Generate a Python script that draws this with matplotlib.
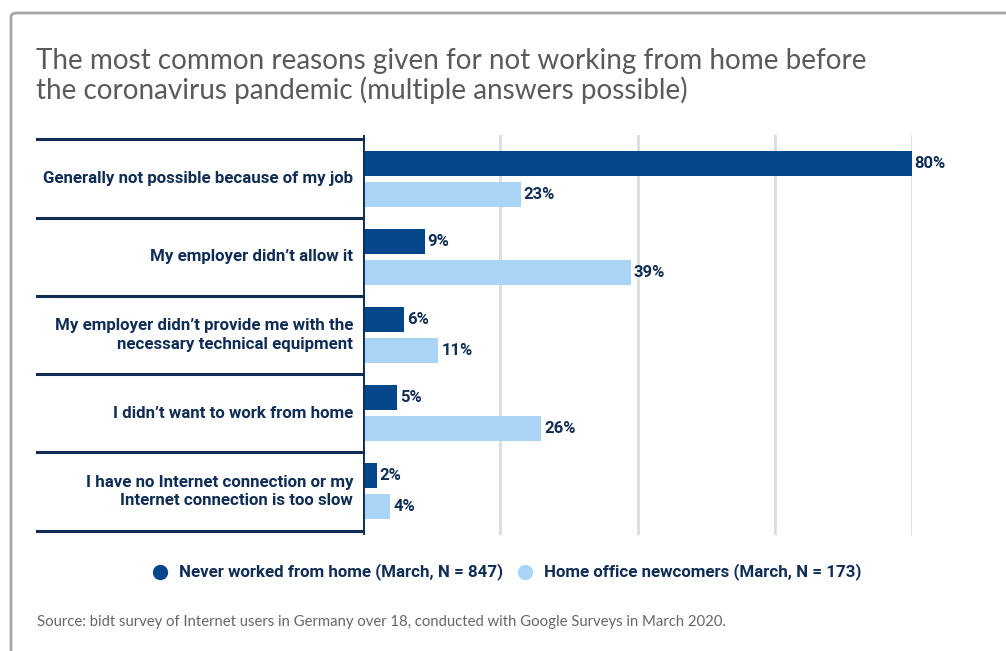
import matplotlib.pyplot as plt
import numpy as np
from matplotlib.patches import FancyBboxPatch
from matplotlib.transforms import blended_transform_factory

reasons = [
    "Generally not possible because of my job",
    "My employer didn\u2019t allow it",
    "My employer didn\u2019t provide me with the\nnecessary technical equipment",
    "I didn\u2019t want to work from home",
    "I have no Internet connection or my\nInternet connection is too slow",
]
never_wfh = [80, 9, 6, 5, 2]
newcomers = [23, 39, 11, 26, 4]
series_names = ["Never worked from home (March, N = 847)",
                "Home office newcomers (March, N = 173)"]
grid_ticks = [20, 40, 60, 80]

dark = "#03468a"
light = "#a9d4f6"
navy = "#0f2d55"
W, H = 1006, 651

plt.rcParams['font.family'] = ['Roboto', 'DejaVu Sans']

fig = plt.figure(figsize=(W / 100, H / 100), dpi=100)

# card outline
card = FancyBboxPatch((11 / W, -0.2), 1.2, 1.2 - 13 / H,
                      boxstyle="round,pad=0,rounding_size=0.006",
                      transform=fig.transFigure, fill=False,
                      edgecolor="#a7a7a7", linewidth=2)
fig.patches.append(card)

fig.text(36 / W, 1 - 48 / H,
         "The most common reasons given for not working from home before\n"
         "the coronavirus pandemic (multiple answers possible)",
         ha="left", va="top", fontsize=20.1, color="#5a5a5a",
         family=["Lato", "DejaVu Sans"], linespacing=1.12)

ax = fig.add_axes([363 / W, 1 - 535 / H, (912 - 363) / W, 400 / H])
y = np.arange(len(reasons))
off = 0.198
h = 0.32
ax.barh(y - off, never_wfh, height=h, color=dark, zorder=3)
ax.barh(y + off, newcomers, height=h, color=light, zorder=3)

for yi, v in zip(y - off, never_wfh):
    ax.text(v + 0.4, yi, f"{v}%", va="center", ha="left", fontsize=12,
            fontweight="bold", color=navy, clip_on=False)
for yi, v in zip(y + off, newcomers):
    ax.text(v + 0.4, yi, f"{v}%", va="center", ha="left", fontsize=12,
            fontweight="bold", color=navy, clip_on=False)

pad = 0.057
ax.set_ylim(len(reasons) - 0.5 + pad, -0.5 - pad)
ax.set_xlim(0, 80)
for t in grid_ticks:
    ax.axvline(t, color="#d9dce1", linewidth=2, zorder=1)
ax.axvline(0, color=navy, linewidth=2.8, zorder=4)
for s in ax.spines.values():
    s.set_visible(False)
ax.set_xticks([])
ax.set_yticks([])

# row separators and labels on the left
tr = blended_transform_factory(fig.transFigure, ax.transData)
for b in np.arange(len(reasons) + 1) - 0.5:
    ax.plot([37 / W, 363 / W], [b, b], transform=tr, color=navy,
            linewidth=2.2, clip_on=False)
for yi, r in zip(y, reasons):
    ax.text(353 / W, yi, r, transform=tr, ha="right", va="center",
            fontsize=12.2, fontweight="bold", color=navy, linespacing=1.3)

# legend
ly = 1 - 572 / H
for x0, c, name in [(160, dark, series_names[0]), (525, light, series_names[1])]:
    fig.add_artist(plt.Line2D([x0 / W], [ly], marker="o", markersize=10,
                              color=c, transform=fig.transFigure))
    fig.text((x0 + 19) / W, ly, name, ha="left", va="center", fontsize=12.2,
             fontweight="bold", color=navy)

fig.text(37 / W, 1 - 622 / H,
         "Source: bidt survey of Internet users in Germany over 18, conducted "
         "with Google Surveys in March 2020.",
         ha="left", va="center", fontsize=10.7, color="#666666",
         family=["Lato", "DejaVu Sans"])

fig.savefig("out.png", dpi=100)
